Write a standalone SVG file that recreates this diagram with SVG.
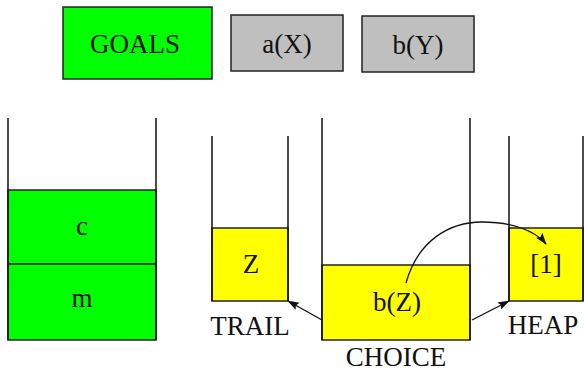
<svg xmlns="http://www.w3.org/2000/svg" width="584" height="372" viewBox="0 0 584 372">
  <style>
    .box { stroke: #222; stroke-width: 1.5; }
    .green { fill: #00ff00; }
    .grey { fill: #bfbfbf; }
    .yellow { fill: #ffff00; }
    .wall { stroke: #111; stroke-width: 1.5; fill: none; }
    .lbl { font-family: "Liberation Serif", "DejaVu Serif", serif; font-size: 27px; fill: #111; text-anchor: middle; }
    .conn { stroke: #111; stroke-width: 1.3; fill: none; }
  </style>
  <defs>
    <marker id="arrow" viewBox="0 0 12 10" refX="11" refY="5" markerWidth="12" markerHeight="10" markerUnits="userSpaceOnUse" orient="auto">
      <path d="M0,1 L12,5 L0,9 L2,5 z" fill="#111"/>
    </marker>
  </defs>

  <!-- goal list -->
  <g id="goals">
    <rect class="box green" x="63" y="7" width="149" height="72"/>
    <text class="lbl" x="135" y="53">GOALS</text>
  </g>
  <g id="goal-a">
    <rect class="box grey" x="231" y="15" width="112" height="56"/>
    <text class="lbl" x="287" y="53">a(X)</text>
  </g>
  <g id="goal-b">
    <rect class="box grey" x="362" y="16" width="112" height="56"/>
    <text class="lbl" x="418" y="54">b(Y)</text>
  </g>

  <!-- goal stack -->
  <g id="goal-stack">
    <rect class="box green" x="8" y="190" width="148" height="74"/>
    <text class="lbl" x="82" y="235">c</text>
    <rect class="box green" x="8" y="264" width="148" height="76"/>
    <text class="lbl" x="82" y="307">m</text>
    <path class="wall" d="M8,118 V340 M156,118 V340"/>
  </g>

  <!-- trail -->
  <g id="trail">
    <rect class="box yellow" x="212" y="228" width="76" height="73"/>
    <text class="lbl" x="251" y="273">Z</text>
    <path class="wall" d="M212,136 V301 M288,136 V301"/>
    <text class="lbl" x="250" y="335">TRAIL</text>
  </g>

  <!-- choice stack -->
  <g id="choice">
    <rect class="box yellow" x="322" y="265" width="148" height="75"/>
    <text class="lbl" x="397" y="311">b(Z)</text>
    <path class="wall" d="M322,118 V340 M470,118 V340"/>
    <text class="lbl" x="396" y="366">CHOICE</text>
  </g>

  <!-- heap -->
  <g id="heap">
    <rect class="box yellow" x="509" y="228" width="74" height="73"/>
    <text class="lbl" x="546" y="273">[1]</text>
    <path class="wall" d="M509,136 V301 M583,136 V301"/>
    <text class="lbl" x="543" y="334">HEAP</text>
  </g>

  <!-- connectors -->
  <g id="connectors">
    <path class="conn" d="M322,320 L288,301" marker-end="url(#arrow)"/>
    <path class="conn" d="M472,320 L509,301" marker-end="url(#arrow)"/>
    <path class="conn" d="M406,283 C418,240 450,222 482,222 C510,222 535,230 546,244" marker-end="url(#arrow)"/>
  </g>
</svg>
